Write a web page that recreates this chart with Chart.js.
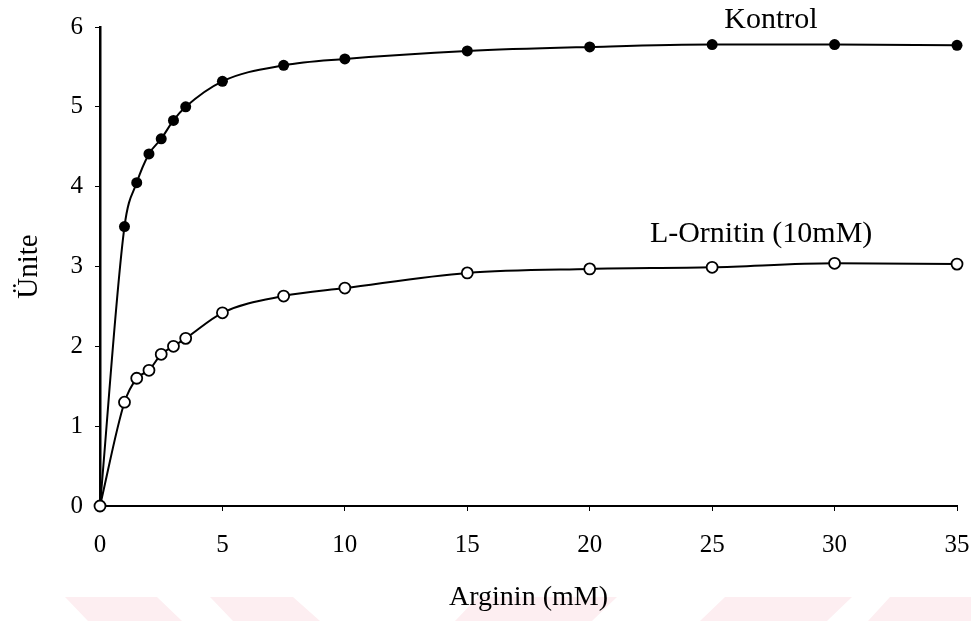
<!DOCTYPE html>
<html lang="tr">
  <head>
    <meta charset="UTF-8" />
    <title>Arginin - Ünite</title>
    <script src="https://cdn.jsdelivr.net/npm/chart.js"></script>
    <style>
      html, body {
        margin: 0;
        padding: 0;
        background: #fff;
      }
      #wrap {
        width: 971px;
        height: 621px;
        position: relative;
      }
    </style>
  </head>
  <body>
    <div id="wrap">
      <canvas id="kinetikChart"></canvas>
    </div>

    <script>
      // Arginin konsantrasyonu (mM)
      const arginin = [0, 1, 1.5, 2, 2.5, 3, 3.5, 5, 7.5, 10, 15, 20, 25, 30, 35];
      // Kontrol ve L-Ornitin (10mM) için ünite değerleri
      const kontrol = [0, 3.5, 4.05, 4.41, 4.6, 4.83, 5.0, 5.32, 5.52, 5.6, 5.7, 5.75, 5.78, 5.78, 5.77];
      const ornitin = [0, 1.3, 1.6, 1.7, 1.9, 2.0, 2.1, 2.42, 2.63, 2.73, 2.92, 2.97, 2.99, 3.04, 3.03];
      const xTicks = [0, 5, 10, 15, 20, 25, 30, 35];
      const yTicks = [0, 1, 2, 3, 4, 5, 6];

      const FONT = "'Liberation Serif', 'Times New Roman', serif";
      const toPoints = (ys) => arginin.map((x, i) => ({ x: x, y: ys[i] }));

      // soluk pembe filigran şeritleri (alt kenar)
      const filigran = {
        id: "filigran",
        beforeDraw(chart) {
          const c = chart.ctx;
          c.save();
          c.fillStyle = "#fdeef1";
          const shapes = [
            [65, 157, 182, 88],
            [210, 293, 320, 233],
            [478, 617, 592, 455],
            [725, 852, 827, 700],
            [890, 990, 990, 868],
          ];
          shapes.forEach(([tl, tr, br, bl]) => {
            c.beginPath();
            c.moveTo(tl, 597);
            c.lineTo(tr, 597);
            c.lineTo(br, 621);
            c.lineTo(bl, 621);
            c.closePath();
            c.fill();
          });
          c.restore();
        },
      };

      // eğri etiketleri
      const egriEtiketleri = {
        id: "egriEtiketleri",
        afterDatasetsDraw(chart) {
          const c = chart.ctx;
          const xs = chart.scales.x;
          const ys = chart.scales.y;
          c.save();
          c.fillStyle = "#000";
          c.font = "30px " + FONT;
          c.textAlign = "center";
          c.textBaseline = "middle";
          c.fillText("Kontrol", xs.getPixelForValue(27.4), ys.getPixelForValue(6.09));
          c.fillText("L-Ornitin (10mM)", xs.getPixelForValue(27.0), ys.getPixelForValue(3.41));
          c.restore();
        },
      };

      const ctx = document.getElementById("kinetikChart").getContext("2d");
      new Chart(ctx, {
        type: "line",
        data: {
          datasets: [
            {
              label: "L-Ornitin (10mM)",
              data: toPoints(ornitin),
              borderColor: "#000",
              borderWidth: 2,
              pointRadius: 5.5,
              pointBorderWidth: 1.8,
              pointBackgroundColor: "#fff",
              pointBorderColor: "#000",
              cubicInterpolationMode: "monotone",
              clip: false,
              order: 0,
            },
            {
              label: "Kontrol",
              data: toPoints(kontrol),
              borderColor: "#000",
              borderWidth: 2,
              pointRadius: (c) => (c.dataIndex === 0 ? 0 : 5.5),
              pointBorderWidth: 0,
              pointBackgroundColor: "#000",
              cubicInterpolationMode: "monotone",
              clip: false,
              order: 1,
            },
          ],
        },
        options: {
          responsive: true,
          maintainAspectRatio: false,
          animation: false,
          events: [],
          layout: {
            padding: { left: 12, right: 14, top: 22, bottom: 7 },
          },
          plugins: {
            legend: { display: false },
            tooltip: { enabled: false },
          },
          scales: {
            x: {
              type: "linear",
              min: 0,
              max: 35,
              afterBuildTicks: (s) => {
                s.ticks = xTicks.map((v) => ({ value: v }));
              },
              afterFit: (s) => {
                s.height = 108;
                s.paddingLeft = 0;
                s.paddingRight = 14;
              },
              border: { display: true, color: "#000", width: 2 },
              grid: { drawOnChartArea: false, drawTicks: true, tickLength: 5, color: "#000", lineWidth: 1 },
              ticks: { color: "#000", font: { family: FONT, size: 25 }, padding: 19, maxRotation: 0 },
              title: {
                display: true,
                text: "Arginin (mM)",
                color: "#000",
                font: { family: FONT, size: 28 },
                padding: 0,
              },
            },
            y: {
              type: "linear",
              min: 0,
              max: 6,
              afterBuildTicks: (s) => {
                s.ticks = yTicks.map((v) => ({ value: v }));
              },
              afterFit: (s) => {
                s.width = 88;
              },
              border: { display: true, color: "#000", width: 2.5 },
              grid: { drawOnChartArea: false, drawTicks: true, tickLength: 5, color: "#000", lineWidth: 1 },
              ticks: { color: "#000", font: { family: FONT, size: 25 }, padding: 12 },
              title: {
                display: true,
                text: "Ünite",
                color: "#000",
                font: { family: FONT, size: 29 },
                padding: 0,
              },
            },
          },
        },
        plugins: [filigran, egriEtiketleri],
      });
    </script>
  </body>
</html>
